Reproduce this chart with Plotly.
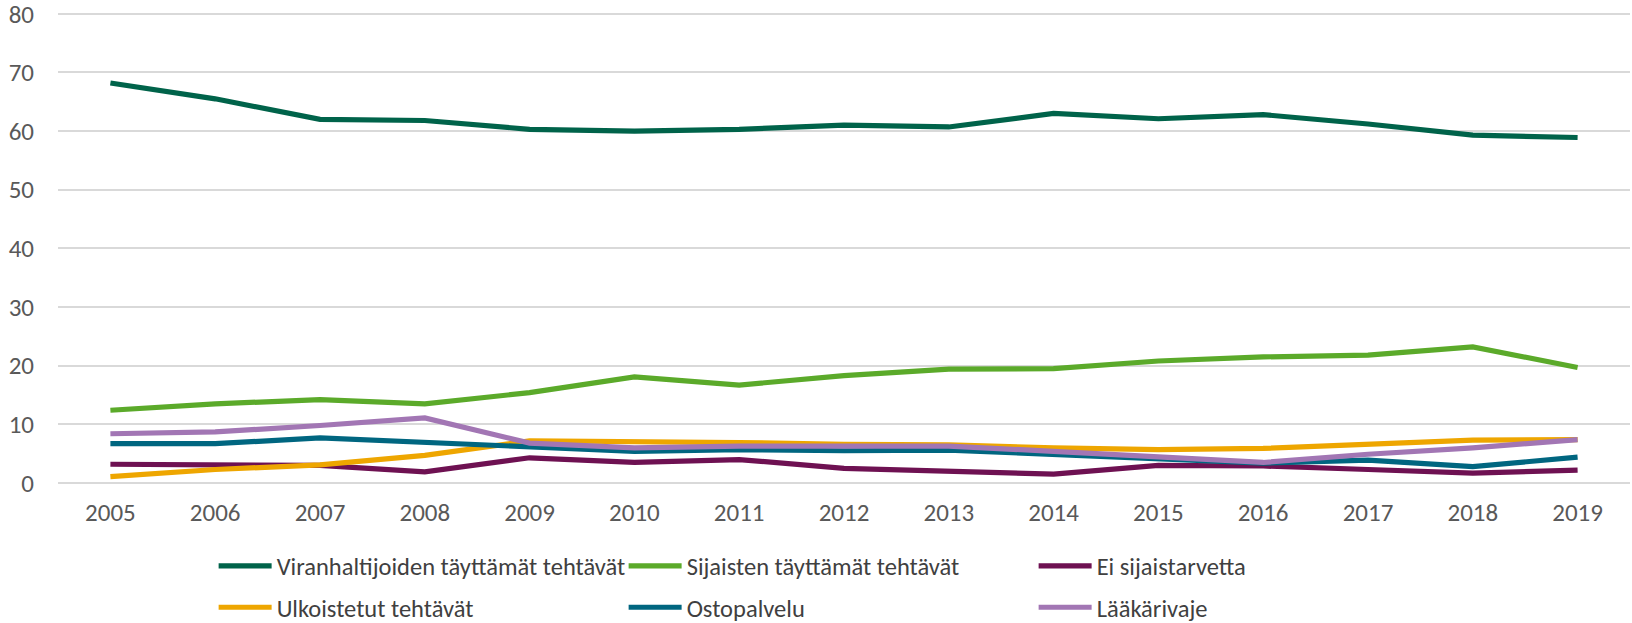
import plotly.graph_objects as go

years = [str(y) for y in range(2005, 2020)]

viranhaltijat = [68.2, 65.5, 62.0, 61.8, 60.3, 60.0, 60.3, 61.0, 60.7, 63.0, 62.1, 62.8, 61.2, 59.3, 58.9]
sijaiset = [12.4, 13.5, 14.2, 13.5, 15.4, 18.1, 16.7, 18.3, 19.4, 19.5, 20.8, 21.5, 21.8, 23.2, 19.7]
ei_sijaistarvetta = [3.2, 3.0, 3.0, 1.9, 4.3, 3.5, 4.0, 2.5, 1.9, 1.5, 3.0, 2.9, 2.3, 1.7, 2.2]
ulkoistetut = [1.1, 2.3, 3.1, 4.7, 7.2, 7.1, 6.9, 6.6, 6.5, 6.0, 5.7, 5.9, 6.6, 7.3, 7.4]
ostopalvelu = [6.7, 6.7, 7.7, 7.0, 6.2, 5.4, 5.7, 5.5, 5.6, 4.8, 4.1, 3.4, 3.9, 2.8, 4.4]
laakarivaje = [8.4, 8.7, 9.8, 11.1, 6.8, 6.0, 6.3, 6.2, 6.3, 5.4, 4.5, 3.5, 4.9, 6.0, 7.4]

names = ["Viranhaltijoiden täyttämät tehtävät", "Sijaisten täyttämät tehtävät", "Ei sijaistarvetta",
         "Ulkoistetut tehtävät", "Ostopalvelu", "Lääkärivaje"]
series = [viranhaltijat, sijaiset, ei_sijaistarvetta, ulkoistetut, ostopalvelu, laakarivaje]
colors = ["#00634A", "#5BAA2A", "#6E1152", "#EEA600", "#006680", "#A276B4"]
legends = ["legend", "legend", "legend", "legend2", "legend2", "legend2"]

FONT = "Carlito, 'Open Sans', sans-serif"

fig = go.Figure()
for i in range(len(series)):
    fig.add_trace(go.Scatter(
        x=years, y=series[i], name=names[i], mode="lines",
        line=dict(color=colors[i], width=5.2),
        legend=legends[i],
    ))

legend_common = dict(
    orientation="h", xanchor="left", yanchor="middle",
    entrywidth=342, entrywidthmode="pixels",
    font=dict(family=FONT, size=24.5, color="#404040"),
    bgcolor="rgba(0,0,0,0)", itemwidth=53, tracegroupgap=0,
)

fig.update_layout(
    width=1632, height=623,
    margin=dict(l=58, r=2, t=12, b=140, autoexpand=False),
    paper_bgcolor="white", plot_bgcolor="white",
    font=dict(family=FONT, size=25, color="#595959"),
    showlegend=True,
    legend=dict(x=0.099, y=-0.176, **legend_common),
    legend2=dict(x=0.099, y=-0.264, **legend_common),
    xaxis=dict(
        type="category", range=[-0.5, 14.5], showgrid=False, zeroline=False,
        showline=False, ticks="", tickfont=dict(family=FONT, size=25, color="#595959"),
        ticklabelstandoff=12,
    ),
    yaxis=dict(
        range=[0, 80.3], tickmode="linear", tick0=0, dtick=10,
        showgrid=True, gridcolor="#D9D9D9", gridwidth=1.5,
        zeroline=True, zerolinecolor="#D9D9D9", zerolinewidth=1.5, showline=False,
        ticks="", tickfont=dict(family=FONT, size=25, color="#595959"),
        ticklabelstandoff=23, ticklabeloverflow="allow",
    ),
)

fig.write_html("out.html", config={"displayModeBar": False},
               post_script="document.body.style.margin='0';document.body.style.overflow='hidden';")
